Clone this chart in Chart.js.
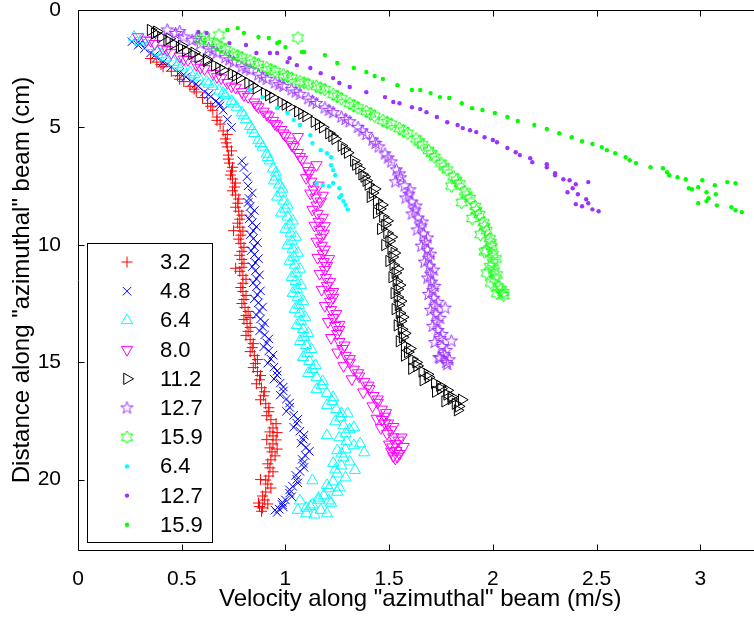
<!DOCTYPE html>
<html>
<head>
<meta charset="UTF-8">
<title>Velocity along azimuthal beam</title>
<script src="https://cdn.jsdelivr.net/npm/chart.js"></script>
<style>
  html, body { margin: 0; padding: 0; background: #fff; }
  #wrap { width: 754px; height: 618px; overflow: hidden; }
</style>
</head>
<body>
<div id="wrap"><canvas id="grafico" width="770" height="618"></canvas></div>
<script>
// legend labels, one per series
const seriesLabels = ['3.2', '4.8', '6.4', '8.0', '11.2', '12.7', '15.9', '6.4', '12.7', '15.9'];
const xTicks = [0, 0.5, 1, 1.5, 2, 2.5, 3];
const yTicks = [0, 5, 10, 15, 20];

// [velocity (m/s), distance (cm)]
const plus32 = [[0.35,2.07],[0.38,2.22],[0.41,2.42],[0.45,2.61],[0.48,2.80],[0.51,3.05],[0.54,3.25],[0.57,3.49],[0.60,3.73],[0.625,3.98],[0.65,4.27],[0.67,4.56],[0.685,4.86],[0.70,5.15],[0.71,5.49],[0.72,5.83],[0.725,6.18],[0.73,6.52],[0.74,6.86],[0.745,7.20],[0.755,7.54],[0.76,7.88],[0.77,8.23],[0.775,8.57],[0.78,8.91],[0.78,9.25],[0.785,9.59],[0.785,9.94],[0.79,10.28],[0.79,10.62],[0.79,10.96],[0.795,11.30],[0.795,11.64],[0.795,11.99],[0.80,12.33],[0.805,12.67],[0.81,13.01],[0.815,13.35],[0.82,13.69],[0.83,14.04],[0.84,14.38],[0.85,14.72],[0.855,15.06],[0.865,15.40],[0.875,15.75],[0.885,16.09],[0.895,16.43],[0.905,16.77],[0.92,17.11],[0.93,17.45],[0.94,17.80],[0.94,18.14],[0.94,18.48],[0.935,18.82],[0.93,19.16],[0.925,19.50],[0.92,19.85],[0.915,20.19],[0.905,20.53],[0.90,20.87],[0.89,21.21],[0.885,21.35],[0.75,9.4],[0.96,18.0],[0.91,18.3],[0.96,18.7],[0.88,20.0],[0.87,21.0],[0.76,11.0],[0.83,13.1],
  [0.40,2.32],[0.49,2.95],[0.56,3.37],[0.64,4.1],[0.67,4.7],[0.72,5.3],[0.715,5.66],[0.74,6.0],[0.725,6.35],[0.745,6.7],[0.735,7.03],[0.76,7.37],[0.745,7.7],[0.775,8.05],[0.76,8.4],[0.79,8.74],[0.77,9.08],[0.795,9.42],[0.775,9.76],[0.80,10.11],[0.78,10.45],[0.80,10.79],[0.78,11.13],[0.81,11.47],[0.785,11.82],[0.81,12.16],[0.79,12.5],[0.82,12.84],[0.80,13.18],[0.83,13.52],[0.81,13.86],[0.845,14.21],[0.83,14.55],[0.865,14.89],[0.845,15.23],[0.88,15.57],[0.86,15.92],[0.90,16.26],[0.88,16.6],[0.92,16.94],[0.91,17.28],[0.955,17.62],[0.925,17.97],[0.955,18.31],[0.925,18.65],[0.95,18.99],[0.915,19.33],[0.94,19.67],[0.905,20.02],[0.93,20.36],[0.89,20.7],[0.915,21.04],[0.875,21.15]];
const cross48 = [[0.26,1.35],[0.29,1.50],[0.32,1.64],[0.35,1.83],[0.38,2.03],[0.41,2.22],[0.45,2.42],[0.49,2.66],[0.52,2.85],[0.55,3.05],[0.58,3.25],[0.61,3.49],[0.64,3.69],[0.665,3.88],[0.685,4.08],[0.70,4.27],[0.72,4.66],[0.74,5.00],[0.79,6.42],[0.80,6.71],[0.815,7.10],[0.82,7.49],[0.825,8.03],[0.83,8.37],[0.835,8.71],[0.84,9.06],[0.845,9.40],[0.845,9.74],[0.85,10.08],[0.85,10.42],[0.855,10.76],[0.855,11.11],[0.86,11.45],[0.86,11.79],[0.865,12.13],[0.87,12.47],[0.875,12.82],[0.88,13.16],[0.89,13.50],[0.90,13.84],[0.91,14.18],[0.92,14.52],[0.93,14.87],[0.945,15.21],[0.96,15.55],[0.975,15.89],[0.99,16.23],[1.005,16.57],[1.02,16.92],[1.04,17.26],[1.055,17.60],[1.07,17.94],[1.085,18.28],[1.10,18.63],[1.095,18.97],[1.085,19.31],[1.07,19.65],[1.055,19.99],[1.035,20.29],[1.02,20.58],[1.0,20.87],[0.985,21.07],[0.97,21.26],[0.96,21.4],
  [0.84,7.8],[0.82,8.2],[0.85,8.54],[0.825,8.9],[0.86,9.23],[0.83,9.57],[0.865,9.91],[0.835,10.25],[0.87,10.59],[0.84,10.93],[0.875,11.28],[0.845,11.62],[0.88,11.96],[0.85,12.3],[0.89,12.65],[0.86,12.99],[0.90,13.33],[0.875,13.67],[0.92,14.01],[0.895,14.35],[0.94,14.7],[0.915,15.04],[0.96,15.38],[0.945,15.72],[0.99,16.06],[0.975,16.4],[1.02,16.74],[1.005,17.09],[1.06,17.43],[1.04,17.77],[1.09,18.11],[1.075,18.45],[1.115,18.8],[1.08,19.14],[1.09,19.48],[1.05,19.82],[1.06,20.14],[1.02,20.44],[1.03,20.73],[0.985,20.97],[0.99,21.17],[0.95,21.3],
  [0.30,1.42],[0.37,1.93],[0.43,2.32],[0.51,2.75],[0.57,3.15],[0.63,3.6],[0.68,3.98]];
const tri64 = [[0.27,1.15],[0.30,1.35],[0.34,1.54],[0.38,1.78],[0.42,2.03],[0.46,2.22],[0.50,2.42],[0.54,2.66],[0.58,2.85],[0.62,3.05],[0.65,3.25],[0.68,3.44],[0.71,3.64],[0.74,3.88],[0.765,4.13],[0.79,4.37],[0.81,4.66],[0.83,4.95],[0.85,5.25],[0.87,5.54],[0.89,5.83],[0.91,6.13],[0.925,6.42],[0.94,6.76],[0.955,7.10],[0.97,7.44],[0.98,7.79],[0.99,8.13],[1.0,8.47],[1.01,8.81],[1.02,9.15],[1.025,9.50],[1.03,9.84],[1.035,10.18],[1.04,10.52],[1.045,10.86],[1.05,11.20],[1.05,11.55],[1.055,11.89],[1.06,12.23],[1.065,12.57],[1.07,12.91],[1.075,13.25],[1.085,13.60],[1.09,13.94],[1.10,14.28],[1.105,14.62],[1.115,14.96],[1.13,15.30],[1.15,15.65],[1.175,15.99],[1.2,16.33],[1.225,16.67],[1.245,17.01],[1.265,17.36],[1.28,17.70],[1.29,18.04],[1.295,18.38],[1.29,18.72],[1.28,19.07],[1.27,19.41],[1.25,19.75],[1.23,20.09],[1.21,20.38],[1.185,20.68],[1.16,20.87],[1.13,21.07],[1.10,21.21],[1.38,18.85],[1.36,18.47],[1.33,17.78],[1.30,17.19],[1.335,19.6],[1.26,20.34],[1.21,20.9],[1.20,21.45],[1.10,21.45],[1.07,20.9],[1.13,20.04],[1.20,18.12],[1.25,18.76],[1.23,19.3],
  [0.31,1.25],[0.40,1.9],[0.48,2.32],[0.56,2.75],[0.63,3.15],[0.70,3.54],[0.75,4.0],[0.80,4.5],[0.84,5.1],[0.88,5.68],[0.915,6.27],[0.955,6.93],[0.945,7.27],[0.985,7.62],[0.96,7.96],[1.01,8.3],[0.98,8.64],[1.035,8.98],[1.0,9.33],[1.05,9.67],[1.01,10.01],[1.06,10.35],[1.02,10.69],[1.07,11.03],[1.03,11.38],[1.075,11.72],[1.035,12.06],[1.085,12.4],[1.045,12.74],[1.095,13.08],[1.055,13.43],[1.11,13.77],[1.07,14.11],[1.125,14.45],[1.085,14.79],[1.145,15.13],[1.11,15.47],[1.18,15.82],[1.15,16.16],[1.23,16.5],[1.20,16.84],[1.27,17.18],[1.24,17.53],[1.31,17.87],[1.26,18.21],[1.33,18.55],[1.27,18.9],[1.31,19.24],[1.24,19.58],[1.29,19.92],[1.20,20.24],[1.25,20.53],[1.16,20.78],[1.22,21.0],[1.12,21.14],[1.17,21.3],[1.06,21.3],[1.14,21.5]];
const tri80 = [[0.29,1.15],[0.33,1.29],[0.37,1.44],[0.41,1.64],[0.45,1.83],[0.49,1.98],[0.53,2.12],[0.57,2.32],[0.61,2.51],[0.65,2.71],[0.69,2.90],[0.72,3.10],[0.76,3.30],[0.79,3.49],[0.82,3.69],[0.85,3.93],[0.87,4.13],[0.895,4.32],[0.92,4.52],[0.94,4.71],[0.96,4.91],[0.98,5.10],[1.0,5.35],[1.02,5.59],[1.04,5.83],[1.06,6.08],[1.08,6.37],[1.10,6.66],[1.115,6.96],[1.125,7.30],[1.135,7.64],[1.145,7.98],[1.15,8.32],[1.155,8.67],[1.16,9.01],[1.165,9.35],[1.17,9.69],[1.175,10.03],[1.18,10.37],[1.185,10.72],[1.19,11.06],[1.195,11.40],[1.20,11.74],[1.21,12.08],[1.215,12.42],[1.22,12.77],[1.23,13.11],[1.24,13.45],[1.25,13.79],[1.26,14.13],[1.275,14.43],[1.29,14.72],[1.31,15.01],[1.33,15.31],[1.355,15.60],[1.38,15.84],[1.405,16.14],[1.425,16.43],[1.445,16.72],[1.465,17.01],[1.48,17.31],[1.495,17.60],[1.51,17.89],[1.52,18.19],[1.53,18.48],[1.535,18.77],[1.54,19.02],[1.53,19.1],[1.19,9.2],[1.21,10.6],[1.23,12.0],[1.26,13.4],[1.18,7.9],[1.15,6.6],[1.06,5.4],[1.48,17.6],[1.50,18.5],[1.51,18.8],[1.46,17.8],[1.44,17.4],[1.56,18.2],[1.57,18.6],
  [0.35,1.3],[0.43,1.7],[0.51,2.1],[0.59,2.45],[0.67,2.85],[0.74,3.25],[0.80,3.62],[0.86,4.05],[0.91,4.45],[0.95,4.85],[0.99,5.25],[1.03,5.75],[1.07,6.25],[1.11,6.85],[1.10,7.15],[1.16,7.47],[1.12,7.81],[1.17,8.15],[1.13,8.5],[1.18,8.84],[1.14,9.18],[1.185,9.52],[1.15,9.86],[1.19,10.2],[1.155,10.55],[1.20,10.89],[1.165,11.23],[1.215,11.57],[1.175,11.91],[1.23,12.25],[1.19,12.6],[1.245,12.94],[1.205,13.28],[1.26,13.62],[1.22,13.96],[1.285,14.28],[1.25,14.58],[1.31,14.86],[1.28,15.16],[1.35,15.46],[1.32,15.72],[1.40,15.99],[1.375,16.28],[1.445,16.58],[1.42,16.87],[1.485,17.16],[1.465,17.45],[1.52,17.75],[1.49,18.04],[1.545,18.33],[1.515,18.62],[1.55,18.9],[1.52,19.0]];
const tri112 = [[0.35,0.85],[0.37,1.00],[0.40,1.15],[0.43,1.29],[0.46,1.44],[0.49,1.59],[0.52,1.73],[0.55,1.88],[0.58,2.03],[0.62,2.17],[0.66,2.37],[0.70,2.56],[0.74,2.71],[0.78,2.90],[0.82,3.10],[0.86,3.34],[0.90,3.54],[0.94,3.73],[0.98,3.93],[1.02,4.13],[1.06,4.32],[1.10,4.52],[1.14,4.76],[1.18,5.00],[1.21,5.25],[1.24,5.49],[1.27,5.78],[1.30,6.08],[1.33,6.42],[1.355,6.76],[1.38,7.10],[1.40,7.44],[1.42,7.79],[1.44,8.13],[1.455,8.47],[1.47,8.81],[1.48,9.15],[1.49,9.50],[1.50,9.84],[1.51,10.18],[1.515,10.52],[1.52,10.86],[1.53,11.20],[1.535,11.55],[1.54,11.89],[1.54,12.23],[1.545,12.57],[1.55,12.91],[1.555,13.25],[1.56,13.60],[1.565,13.94],[1.575,14.28],[1.59,14.57],[1.61,14.87],[1.635,15.16],[1.66,15.40],[1.69,15.65],[1.72,15.89],[1.75,16.13],[1.78,16.38],[1.80,16.57],[1.82,16.77],[1.83,17.05],[1.85,16.6],[1.78,16.2],
  [0.38,0.92],[0.44,1.22],[0.50,1.52],[0.56,1.82],[0.62,2.1],[0.68,2.46],[0.76,2.8],[0.84,3.22],[0.92,3.63],[1.00,4.03],[1.08,4.42],[1.16,4.88],[1.225,5.37],[1.285,5.93],[1.34,6.59],[1.39,7.27],[1.37,7.0],[1.43,7.62],[1.41,7.96],[1.465,8.3],[1.44,8.64],[1.49,8.98],[1.46,9.33],[1.51,9.67],[1.48,10.01],[1.525,10.35],[1.50,10.69],[1.54,11.03],[1.515,11.38],[1.55,11.72],[1.525,12.06],[1.555,12.4],[1.53,12.74],[1.565,13.08],[1.54,13.43],[1.575,13.77],[1.55,14.11],[1.60,14.42],[1.575,14.72],[1.63,15.01],[1.61,15.28],[1.685,15.52],[1.665,15.77],[1.745,16.01],[1.725,16.26],[1.80,16.47],[1.77,16.67],[1.835,16.88]];
const star127 = [[0.43,0.85],[0.47,1.00],[0.51,1.15],[0.55,1.29],[0.59,1.44],[0.63,1.64],[0.67,1.83],[0.71,2.03],[0.75,2.22],[0.79,2.42],[0.83,2.56],[0.87,2.76],[0.91,2.95],[0.95,3.10],[0.99,3.25],[1.03,3.39],[1.07,3.59],[1.11,3.78],[1.15,3.98],[1.19,4.17],[1.23,4.37],[1.27,4.56],[1.31,4.76],[1.35,5.00],[1.39,5.30],[1.42,5.54],[1.45,5.83],[1.48,6.13],[1.51,6.47],[1.535,6.81],[1.555,7.15],[1.575,7.49],[1.595,7.84],[1.61,8.18],[1.625,8.52],[1.64,8.86],[1.655,9.20],[1.665,9.54],[1.675,9.89],[1.685,10.23],[1.69,10.57],[1.695,10.91],[1.70,11.25],[1.705,11.59],[1.71,11.94],[1.715,12.28],[1.72,12.62],[1.725,12.96],[1.73,13.30],[1.735,13.65],[1.745,13.99],[1.755,14.33],[1.765,14.67],[1.775,15.01],[1.78,15.1],[1.80,14.1],[1.77,12.7],[1.74,14.8],
  [0.49,0.92],[0.57,1.22],[0.65,1.74],[0.73,2.12],[0.81,2.49],[0.89,2.86],[0.97,3.18],[1.05,3.49],[1.13,3.88],[1.21,4.27],[1.29,4.66],[1.37,5.15],[1.435,5.68],[1.495,6.3],[1.55,6.98],[1.53,7.32],[1.60,7.66],[1.58,8.01],[1.63,8.35],[1.61,8.69],[1.66,9.03],[1.635,9.37],[1.685,9.71],[1.655,10.06],[1.70,10.4],[1.67,10.74],[1.715,11.08],[1.685,11.42],[1.72,11.77],[1.69,12.11],[1.735,12.45],[1.70,12.79],[1.745,13.13],[1.71,13.47],[1.755,13.82],[1.72,14.16],[1.775,14.5],[1.745,14.84],[1.79,14.9]];
const hex159 = [[0.59,1.24],[0.63,1.34],[0.67,1.49],[0.71,1.68],[0.75,1.88],[0.79,2.03],[0.83,2.17],[0.87,2.32],[0.91,2.46],[0.95,2.61],[0.99,2.76],[1.03,2.90],[1.07,3.05],[1.11,3.15],[1.15,3.25],[1.19,3.39],[1.23,3.59],[1.27,3.78],[1.31,3.98],[1.35,4.17],[1.39,4.32],[1.43,4.52],[1.47,4.71],[1.51,4.86],[1.55,5.05],[1.59,5.25],[1.63,5.49],[1.66,5.74],[1.69,5.98],[1.72,6.27],[1.75,6.52],[1.78,6.81],[1.81,7.10],[1.84,7.40],[1.865,7.74],[1.89,8.03],[1.915,8.37],[1.935,8.71],[1.955,9.06],[1.97,9.40],[1.985,9.74],[1.995,10.08],[2.0,10.42],[2.0,10.76],[2.005,11.11],[2.01,11.45],[2.025,11.79],[2.05,12.03],[2.05,12.15],[1.96,10.3],[1.97,11.2],[1.06,1.19],[0.68,1.07],
  [0.61,1.15],[0.69,1.58],[0.77,1.95],[0.85,2.25],[0.93,2.54],[1.01,2.83],[1.09,3.1],[1.17,3.32],[1.25,3.68],[1.33,4.07],[1.41,4.42],[1.49,4.79],[1.57,5.15],[1.645,5.62],[1.705,6.12],[1.765,6.67],[1.825,7.25],[1.80,7.5],[1.875,7.88],[1.85,8.2],[1.92,8.54],[1.90,8.88],[1.96,9.23],[1.94,9.57],[1.99,9.91],[1.97,10.25],[2.015,10.6],[1.985,10.93],[2.02,11.28],[1.99,11.62],[2.04,11.9],[2.02,12.08]];
const dot64 = [[0.83,3.41],[0.89,3.71],[0.96,4.18],[1.01,4.39],[1.04,4.69],[1.07,4.90],[1.12,5.33],[1.13,5.67],[1.17,5.97],[1.20,6.10],[1.22,6.27],[1.22,6.61],[1.23,6.82],[1.24,7.04],[1.23,7.37],[1.15,7.38],[1.18,7.46],[1.21,7.51],[1.26,7.59],[1.27,7.89],[1.26,7.98],[1.28,8.14],[1.29,8.30],[1.30,8.49]];
const dot127 = [[0.58,0.94],[0.62,0.98],[0.73,1.41],[0.81,1.49],[0.86,1.83],[0.925,1.83],[0.96,1.83],[1.01,2.22],[1.02,2.05],[1.055,2.35],[1.12,2.47],[1.17,2.69],[1.23,2.90],[1.26,3.11],[1.31,3.28],[1.39,3.50],[1.48,3.71],[1.52,3.92],[1.55,3.97],[1.61,4.14],[1.65,4.22],[1.68,4.35],[1.73,4.56],[1.78,4.78],[1.83,4.90],[1.855,5.03],[1.89,5.12],[1.92,5.20],[1.96,5.42],[2.0,5.54],[2.02,5.63],[2.07,5.88],[2.11,6.06],[2.13,6.18],[2.18,6.31],[2.19,6.48],[2.26,6.57],[2.26,6.70],[2.30,6.95],[2.30,7.04],[2.34,7.21],[2.37,7.25],[2.40,7.42],[2.46,7.33],[2.385,7.59],[2.36,7.76],[2.41,7.85],[2.45,8.06],[2.40,8.27],[2.46,8.23],[2.43,8.36],[2.48,8.49],[2.51,8.57]];
const dot159 = [[0.72,0.85],[0.77,0.77],[0.80,0.98],[0.87,1.15],[0.92,1.19],[0.96,1.41],[0.97,1.36],[1.0,1.58],[1.08,1.79],[1.09,1.79],[1.19,1.92],[1.25,2.26],[1.33,2.47],[1.39,2.64],[1.43,2.81],[1.47,2.94],[1.54,3.20],[1.61,3.41],[1.65,3.41],[1.70,3.54],[1.745,3.71],[1.79,3.75],[1.85,3.97],[1.90,4.18],[1.95,4.26],[2.01,4.39],[2.07,4.56],[2.12,4.73],[2.20,4.90],[2.26,5.07],[2.32,5.25],[2.38,5.42],[2.43,5.59],[2.48,5.71],[2.525,5.84],[2.55,5.97],[2.59,6.10],[2.64,6.27],[2.66,6.40],[2.69,6.52],[2.76,6.70],[2.82,6.74],[2.84,6.91],[2.85,7.04],[2.89,7.12],[2.93,7.21],[3.01,7.25],[2.945,7.59],[2.96,7.63],[2.99,7.55],[3.03,7.76],[3.07,7.46],[3.075,7.85],[3.04,8.02],[3.03,8.14],[2.99,8.23],[3.13,7.33],[3.17,7.38],[3.08,8.32],[3.15,8.40],[3.17,8.53],[3.20,8.61]];

const FUENTE = '"Liberation Sans", Arial, Helvetica, sans-serif';

// outline stars (pentagram / hexagram) as point images
function estrella(puntas, rExt, rInt, color) {
  const c = document.createElement('canvas');
  const s = Math.ceil(rExt * 2 + 4);
  c.width = s; c.height = s;
  const g = c.getContext('2d');
  g.translate(s / 2, s / 2);
  g.beginPath();
  for (let i = 0; i < puntas * 2; i++) {
    const ang = -Math.PI / 2 + i * Math.PI / puntas;
    const r = i % 2 === 0 ? rExt : rInt;
    if (i === 0) g.moveTo(r * Math.cos(ang), r * Math.sin(ang));
    else g.lineTo(r * Math.cos(ang), r * Math.sin(ang));
  }
  g.closePath();
  g.strokeStyle = color;
  g.lineWidth = 1;
  g.stroke();
  return c;
}

const PURPURA = '#9933ff';
const VERDE = '#00ff00';
const pentagrama = estrella(5, 6.5, 2.6, PURPURA);
const hexagrama = estrella(6, 6.5, 3.75, VERDE);

function serie(i, datos, color, estilo, radio, rot, relleno) {
  return {
    label: seriesLabels[i],
    data: datos.map(p => ({ x: p[0], y: p[1] })),
    pointStyle: estilo,
    pointRadius: radio,
    pointRotation: rot,
    borderColor: color,
    pointBorderColor: color,
    backgroundColor: relleno ? color : 'rgba(0,0,0,0)',
    pointBackgroundColor: relleno ? color : 'rgba(0,0,0,0)',
    borderWidth: relleno ? 0 : 1,
    pointBorderWidth: relleno ? 0 : 1,
    showLine: false,
    order: -i
  };
}

const datasets = [
  serie(0, plus32, '#ff0000', 'cross', 5.5, 0, false),
  serie(1, cross48, '#0000ff', 'crossRot', 6, 0, false),
  serie(2, tri64, '#00ffff', 'triangle', 6.5, 0, false),
  serie(3, tri80, '#ff00ff', 'triangle', 6.5, 180, false),
  serie(4, tri112, '#000000', 'triangle', 6.5, 90, false),
  serie(5, star127, PURPURA, pentagrama, 6.5, 0, false),
  serie(6, hex159, VERDE, hexagrama, 6.5, 0, false),
  serie(7, dot64, '#00ffff', 'circle', 2.2, 0, true),
  serie(8, dot127, PURPURA, 'circle', 2.2, 0, true),
  serie(9, dot159, VERDE, 'circle', 2.2, 0, true)
];

// box with inward ticks (matlab style) and the legend inside the axes
const caja = {
  id: 'caja',
  afterDraw(chart) {
    const { ctx, chartArea: a, scales: { x, y } } = chart;
    const L = Math.round(a.left) + 0.5, R = Math.round(a.right) + 0.5;
    const T = Math.round(a.top) + 0.5, B = Math.round(a.bottom) + 0.5;
    ctx.save();
    ctx.strokeStyle = '#000';
    ctx.lineWidth = 1;
    ctx.beginPath();
    ctx.rect(L, T, R - L, B - T);
    xTicks.forEach(v => {
      const px = Math.round(x.getPixelForValue(v)) + 0.5;
      ctx.moveTo(px, B); ctx.lineTo(px, B - 6);
      ctx.moveTo(px, T); ctx.lineTo(px, T + 6);
    });
    yTicks.forEach(v => {
      const py = Math.round(y.getPixelForValue(v)) + 0.5;
      ctx.moveTo(L, py); ctx.lineTo(L + 6, py);
      ctx.moveTo(R, py); ctx.lineTo(R - 6, py);
    });
    ctx.stroke();

    // legend
    const lx = 87.5, ly = 243.5, lw = 125, lh = 299;
    ctx.fillStyle = '#fff';
    ctx.fillRect(lx, ly, lw, lh);
    ctx.strokeRect(lx, ly, lw, lh);
    ctx.font = '22px ' + FUENTE;
    ctx.textBaseline = 'middle';
    ctx.textAlign = 'left';
    chart.data.datasets.forEach((ds, i) => {
      const cy = 262 + i * 29.2;
      ctx.save();
      ctx.strokeStyle = ds.borderColor;
      ctx.fillStyle = ds.backgroundColor;
      ctx.lineWidth = ds.pointBorderWidth || 1;
      Chart.helpers.drawPoint(ctx, {
        pointStyle: ds.pointStyle,
        radius: ds.pointRadius,
        rotation: ds.pointRotation,
        borderWidth: ds.pointBorderWidth
      }, 127, cy);
      ctx.restore();
      ctx.fillStyle = '#000';
      ctx.fillText(ds.label, 160, cy + 1);
    });
    ctx.restore();
  }
};

new Chart(document.getElementById('grafico'), {
  type: 'scatter',
  data: { datasets: datasets },
  options: {
    responsive: false,
    animation: false,
    events: [],
    layout: { padding: { left: 0, top: 10, right: 7, bottom: 0 } },
    plugins: { legend: { display: false }, tooltip: { enabled: false } },
    scales: {
      x: {
        type: 'linear',
        min: 0,
        max: 3.3,
        grid: { display: false },
        border: { display: false },
        afterBuildTicks: s => { s.ticks = xTicks.map(v => ({ value: v })); },
        afterFit: s => { s.height = 68; s.paddingLeft = 0; s.paddingRight = 0; },
        ticks: { color: '#000', padding: 9, maxRotation: 0, font: { family: FUENTE, size: 21 }, callback: v => String(v) },
        title: {
          display: true,
          text: 'Velocity along "azimuthal" beam (m/s)',
          color: '#000',
          font: { family: FUENTE, size: 24 },
          padding: { top: 0, bottom: 4 }
        }
      },
      y: {
        type: 'linear',
        reverse: true,
        min: 0,
        max: 23,
        grid: { display: false },
        border: { display: false },
        afterBuildTicks: s => { s.ticks = yTicks.map(v => ({ value: v })); },
        afterFit: s => { s.width = 78; s.paddingTop = 0; s.paddingBottom = 0; },
        ticks: { color: '#000', padding: 9, font: { family: FUENTE, size: 21 }, callback: v => String(v) },
        title: {
          display: true,
          text: 'Distance along "azimuthal" beam (cm)',
          color: '#000',
          font: { family: FUENTE, size: 24 },
          padding: { top: 8, bottom: 0 }
        }
      }
    }
  },
  plugins: [caja]
});
</script>
</body>
</html>
